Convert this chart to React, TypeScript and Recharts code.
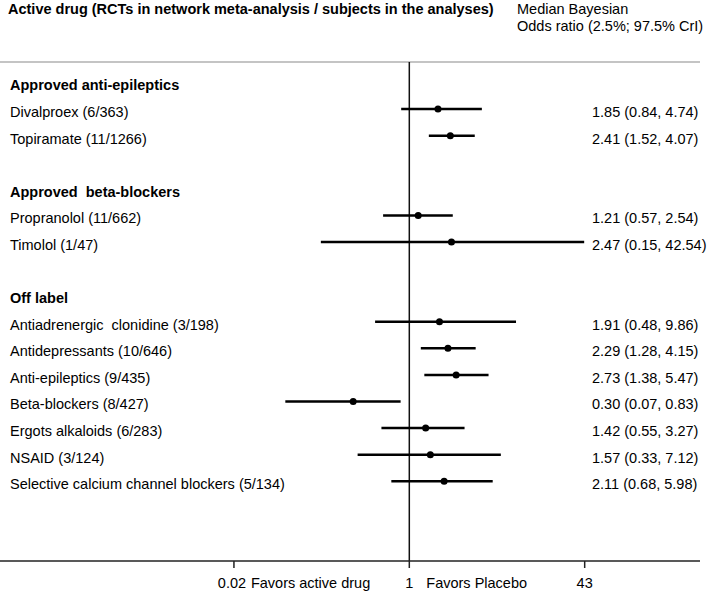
import React from 'react';
import { ComposedChart, Scatter, ErrorBar, XAxis, YAxis, ReferenceLine } from 'recharts';

// group headings and the row they sit on
const groups = ['Approved anti-epileptics', 'Approved  beta-blockers', 'Off label'];
const groupRows = [0, 4, 8];

// drugs (RCTs / subjects) and their rows
const drugs = [
  'Divalproex (6/363)',
  'Topiramate (11/1266)',
  'Propranolol (11/662)',
  'Timolol (1/47)',
  'Antiadrenergic  clonidine (3/198)',
  'Antidepressants (10/646)',
  'Anti-epileptics (9/435)',
  'Beta-blockers (8/427)',
  'Ergots alkaloids (6/283)',
  'NSAID (3/124)',
  'Selective calcium channel blockers (5/134)',
];
const drugRows = [1, 2, 5, 6, 9, 10, 11, 12, 13, 14, 15];

const medians = [1.85, 2.41, 1.21, 2.47, 1.91, 2.29, 2.73, 0.3, 1.42, 1.57, 2.11];
const lower = [0.84, 1.52, 0.57, 0.15, 0.48, 1.28, 1.38, 0.07, 0.55, 0.33, 0.68];
const upper = [4.74, 4.07, 2.54, 42.54, 9.86, 4.15, 5.47, 0.83, 3.27, 7.12, 5.98];

const xTicks = [1 / 43, 1, 43];
const xTickLabels = ['0.02', '1', '43'];
const xTickNotes = ['Favors active drug', 'Favors Placebo', ''];

const FONT = '"Liberation Sans", Arial, sans-serif';
const FS = 14.5;

const data = drugs.map((name, i) => ({
  name,
  row: drugRows[i],
  or: medians[i],
  err: [medians[i] - lower[i], upper[i] - medians[i]],
}));

const leftLabel = (row: number) => {
  const g = groupRows.indexOf(row);
  if (g >= 0) return { text: groups[g], bold: true };
  const d = drugRows.indexOf(row);
  if (d >= 0) return { text: drugs[d], bold: false };
  return null;
};

const rightLabel = (row: number) => {
  const d = drugRows.indexOf(row);
  if (d < 0) return '';
  return `${medians[d].toFixed(2)} (${lower[d].toFixed(2)}, ${upper[d].toFixed(2)})`;
};

const LeftTick = (props: any) => {
  const lab = leftLabel(props.payload.value);
  if (!lab) return null;
  return (
    <text x={10} y={props.y + 8} fontFamily={FONT} fontSize={FS} fontWeight={lab.bold ? 'bold' : 'normal'}
      fill="#000" style={{ whiteSpace: 'pre' }}>
      {lab.text}
    </text>
  );
};

const RightTick = (props: any) => (
  <text x={592} y={props.y + 8} fontFamily={FONT} fontSize={FS} fill="#000">
    {rightLabel(props.payload.value)}
  </text>
);

const XTick = (props: any) => {
  const i = props.payload.index;
  return (
    <g>
      <text x={props.x - (i === 0 ? 2 : 0)} y={588} textAnchor="middle" fontFamily={FONT} fontSize={FS} fill="#000">
        {xTickLabels[i]}
      </text>
      {xTickNotes[i] && (
        <text x={props.x + 17} y={588} fontFamily={FONT} fontSize={FS} fill="#000">
          {xTickNotes[i]}
        </text>
      )}
    </g>
  );
};

const yDomain = [-0.77, 18];

export default function App() {
  return (
    <div style={{ position: 'absolute', left: 0, top: 0, width: 708, height: 592, background: '#fff' }}>
      <div style={{ position: 'absolute', left: 8, top: 1, fontFamily: FONT, fontSize: FS, fontWeight: 'bold', whiteSpace: 'pre' }}>
        Active drug (RCTs in network meta-analysis / subjects in the analyses)
      </div>
      <div style={{ position: 'absolute', left: 517, top: 1, fontFamily: FONT, fontSize: FS, lineHeight: '17px' }}>
        Median Bayesian
        <br />
        Odds ratio (2.5%; 97.5% CrI)
      </div>
      <ComposedChart width={708} height={592} margin={{ top: 62, right: 8, bottom: 1, left: 0 }}>
        <XAxis
          type="number"
          dataKey="or"
          scale="log"
          domain={[0.000154, 510]}
          allowDataOverflow
          height={30}
          ticks={xTicks}
          interval={0}
          tick={XTick}
          tickSize={7}
          axisLine={{ stroke: '#222', strokeWidth: 1.5 }}
          tickLine={{ stroke: '#222', strokeWidth: 1.5 }}
        />
        <YAxis
          yAxisId="left"
          type="number"
          dataKey="row"
          domain={yDomain}
          reversed
          allowDataOverflow
          mirror
          ticks={[...groupRows, ...drugRows]}
          interval={0}
          tick={LeftTick}
          axisLine={false}
          tickLine={false}
        />
        <YAxis
          yAxisId="right"
          orientation="right"
          type="number"
          domain={yDomain}
          reversed
          allowDataOverflow
          mirror
          ticks={drugRows}
          interval={0}
          tick={RightTick}
          axisLine={false}
          tickLine={false}
        />
        <ReferenceLine yAxisId="left" y={-0.77} stroke="#c4c4c4" strokeWidth={2} />
        <ReferenceLine yAxisId="left" x={1} stroke="#111" strokeWidth={1.5} />
        <Scatter
          yAxisId="left"
          data={data}
          dataKey="row"
          fill="#000"
          isAnimationActive={false}
          shape={(p: any) => <circle cx={p.cx} cy={p.cy} r={3.5} fill="#000" />}
        >
          <ErrorBar dataKey="err" direction="x" width={0} stroke="#000" strokeWidth={2.5} />
        </Scatter>
      </ComposedChart>
    </div>
  );
}
